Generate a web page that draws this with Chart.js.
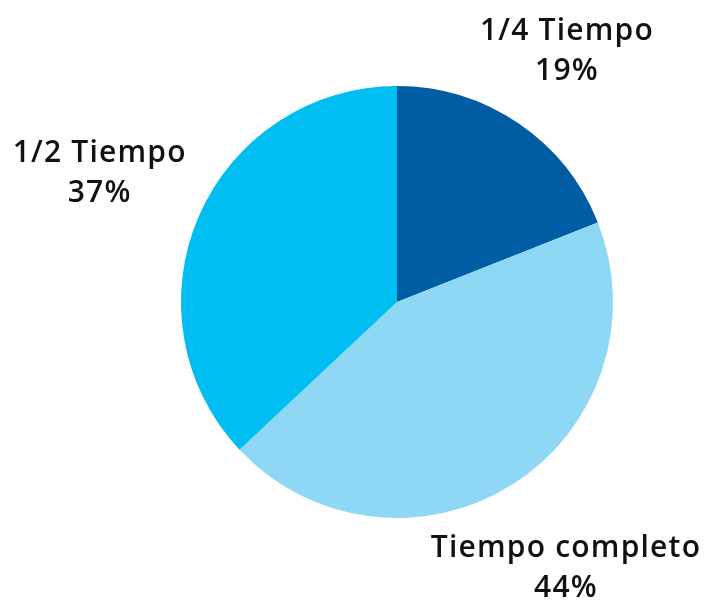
<!DOCTYPE html>
<html>
<head>
<meta charset="utf-8">
<script src="https://cdn.jsdelivr.net/npm/chart.js@4"></script>
<style>
  html, body { margin: 0; padding: 0; background: #fff; }
  #wrap { width: 716px; height: 605px; }
</style>
</head>
<body>
<div id="wrap"><canvas id="pieChart"></canvas></div>
<script>
const categories = ['1/4 Tiempo', 'Tiempo completo', '1/2 Tiempo'];
const values = [19, 44, 37];
const sliceColors = ['#005DA4', '#8ED8F6', '#00BEF2'];

// labels sit outside the pie along each slice's middle angle
const outsideLabels = {
    id: 'outsideLabels',
    afterDatasetsDraw(chart, args, opts) {
        const ctx = chart.ctx;
        const meta = chart.getDatasetMeta(0);
        ctx.save();
        ctx.fillStyle = '#111';
        ctx.font = '600 30px "Open Sans", sans-serif';
        ctx.letterSpacing = '1.2px';
        ctx.textAlign = 'center';
        ctx.textBaseline = 'middle';
        meta.data.forEach((arc, i) => {
            const mid = (arc.startAngle + arc.endAngle) / 2;
            const r = arc.outerRadius * opts.distance[i];
            const x = arc.x + Math.cos(mid) * r;
            const y = arc.y + Math.sin(mid) * r;
            ctx.fillText(categories[i], x, y - 20);
            ctx.fillText(values[i] + '%', x, y + 20);
        });
        ctx.restore();
    }
};

new Chart(document.getElementById('pieChart'), {
    type: 'pie',
    data: {
        labels: categories,
        datasets: [{
            data: values,
            backgroundColor: sliceColors,
            borderWidth: 0
        }]
    },
    options: {
        responsive: true,
        maintainAspectRatio: false,
        animation: false,
        layout: {
            padding: { top: 86, bottom: 87, left: 181, right: 103 }
        },
        plugins: {
            legend: { display: false },
            tooltip: { enabled: false },
            outsideLabels: { distance: [1.40, 1.46, 1.50] }
        }
    },
    plugins: [outsideLabels]
});
</script>
</body>
</html>
